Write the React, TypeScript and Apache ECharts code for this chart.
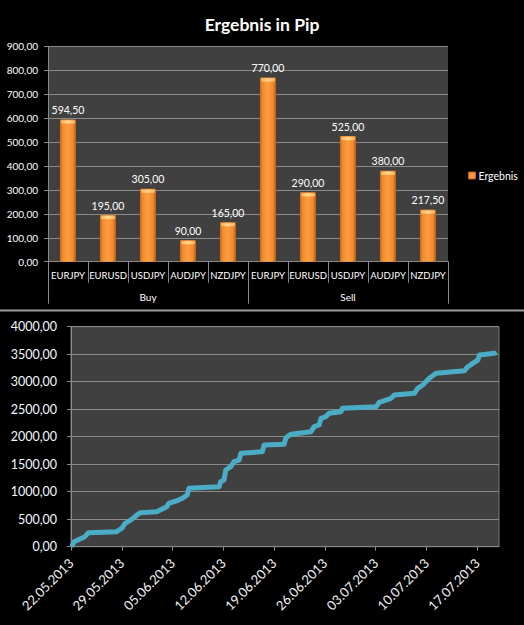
import React, { useEffect, useRef } from "react";
import * as echarts from "echarts";

// ---- Top chart data ----
const pairs = ["EURJPY", "EURUSD", "USDJPY", "AUDJPY", "NZDJPY", "EURJPY", "EURUSD", "USDJPY", "AUDJPY", "NZDJPY"];
const groups = ["Buy", "Sell"];
const results = [594.5, 195, 305, 90, 165, 770, 290, 525, 380, 217.5];
const seriesName = "Ergebnis";

// ---- Bottom chart data (cumulative pips per trade) ----
const tradeTimes = [
  "2013-05-22T05:00", "2013-05-22T10:00", "2013-05-23T22:00", "2013-05-24T10:00", "2013-05-28T07:00",
  "2013-05-29T00:00", "2013-05-29T11:00", "2013-05-30T09:00", "2013-05-31T02:00", "2013-05-31T13:00",
  "2013-06-02T20:00", "2013-06-04T05:00", "2013-06-04T11:00", "2013-06-05T20:00", "2013-06-06T08:00",
  "2013-06-07T00:30", "2013-06-07T06:00", "2013-06-11T10:00", "2013-06-11T15:00", "2013-06-12T02:00",
  "2013-06-12T08:00", "2013-06-13T00:30", "2013-06-13T11:00", "2013-06-14T04:00", "2013-06-14T10:00",
  "2013-06-17T09:00", "2013-06-17T15:00", "2013-06-20T09:00", "2013-06-20T15:00", "2013-06-21T07:00",
  "2013-06-24T02:00", "2013-06-24T12:30", "2013-06-25T05:00", "2013-06-25T11:00", "2013-06-26T03:00",
  "2013-06-26T14:00", "2013-06-28T05:00", "2013-06-28T10:00", "2013-07-03T01:00", "2013-07-03T12:00",
  "2013-07-04T10:00", "2013-07-05T03:00", "2013-07-05T14:00", "2013-07-08T08:00", "2013-07-08T19:00",
  "2013-07-09T11:30", "2013-07-10T09:30", "2013-07-11T08:00", "2013-07-15T06:00", "2013-07-15T17:00",
  "2013-07-16T09:00", "2013-07-17T02:00", "2013-07-17T07:30", "2013-07-19T09:00",
];
const cumulativePips = [
  31, 91, 182, 255, 273,
  335, 425, 498, 576, 618,
  636, 727, 789, 849, 880,
  940, 1062, 1091, 1182, 1213,
  1395, 1455, 1545, 1576, 1698,
  1727, 1849, 1861, 1982, 2044,
  2091, 2182, 2213, 2334, 2364,
  2425, 2455, 2516, 2546, 2625,
  2667, 2698, 2758, 2789, 2880,
  2940, 3062, 3152, 3200, 3273,
  3334, 3394, 3485, 3516,
];
const dateTicks = [
  "22.05.2013", "29.05.2013", "05.06.2013", "12.06.2013", "19.06.2013",
  "26.06.2013", "03.07.2013", "10.07.2013", "17.07.2013",
];
const startDate = "2013-05-22T00:00";
const endDays = 59;

const FONT = "Lato";
const fmt = (v: number) => v.toFixed(2).replace(".", ",");

export default function App() {
  const ref = useRef<HTMLDivElement>(null);

  useEffect(() => {
    document.body.style.margin = "0";
    const chart = echarts.init(ref.current!, undefined, { renderer: "svg" });
    const t0 = Date.parse(startDate + "Z");
    const lineData = tradeTimes.map((t, i) => [
      (Date.parse(t + "Z") - t0) / 86400000,
      cumulativePips[i],
    ]);
    const tickValues = dateTicks.map((_, i) => i * 7);
    const gridColor = "#8a8a8a";

    chart.setOption({
      animation: false,
      backgroundColor: "#000",
      title: {
        text: "Ergebnis in Pip",
        left: "center",
        top: 10,
        textStyle: { color: "#fff", fontSize: 17.5, fontWeight: "bold", fontFamily: FONT },
      },
      legend: {
        data: [{ name: seriesName, icon: "rect", itemStyle: { color: "#f79646", borderColor: "#b85c10", borderWidth: 1 } }],
        left: 463,
        top: 165,
        itemWidth: 7,
        itemHeight: 7,
        itemGap: 4,
        textStyle: { color: "#fff", fontSize: 10.5, fontFamily: FONT, padding: [0, 0, 0, -2] },
      },
      graphic: [
        {
          type: "line",
          shape: { x1: 0, y1: 310.5, x2: 524, y2: 310.5 },
          style: { stroke: "#9a9a9a", lineWidth: 2 },
        },
      ],
      grid: [
        { left: 48, top: 46.3, width: 400, height: 215.4, show: true, backgroundColor: "#404040", borderWidth: 0 },
        { left: 71, top: 326.7, width: 428, height: 220, show: true, backgroundColor: "#404040", borderColor: "#7a7a7a", borderWidth: 1 },
      ],
      xAxis: [
        {
          type: "category",
          gridIndex: 0,
          data: pairs,
          position: "bottom",
          axisLine: { show: true, lineStyle: { color: gridColor } },
          axisTick: { show: true, interval: 0, length: 21, lineStyle: { color: gridColor } },
          axisLabel: { interval: 0, color: "#fff", fontSize: 9.5, fontFamily: FONT, margin: 9 },
        },
        {
          type: "category",
          gridIndex: 0,
          data: groups,
          position: "bottom",
          axisLine: { show: false },
          axisTick: { show: true, interval: 0, length: 42, lineStyle: { color: gridColor } },
          axisLabel: { interval: 0, color: "#fff", fontSize: 10, fontFamily: FONT, margin: 30 },
        },
        {
          type: "value",
          gridIndex: 1,
          min: 0,
          max: endDays,
          interval: 7,
          splitLine: { show: false },
          axisLine: { show: true, lineStyle: { color: gridColor } },
          axisTick: { show: true, length: 4, customValues: tickValues, lineStyle: { color: gridColor } },
          axisLabel: {
            customValues: tickValues,
            rotate: 45,
            margin: 14,
            color: "#f2f2f2",
            fontSize: 13,
            fontFamily: FONT,
            formatter: (v: number) => dateTicks[Math.round(v / 7)] ?? "",
          },
        },
      ],
      yAxis: [
        {
          type: "value",
          gridIndex: 0,
          min: 0,
          max: 900,
          interval: 100,
          axisLine: { show: true, lineStyle: { color: gridColor } },
          axisTick: { show: true, length: 4, lineStyle: { color: gridColor } },
          splitLine: { show: true, lineStyle: { color: gridColor, width: 1 } },
          axisLabel: { color: "#fff", fontSize: 10, fontFamily: FONT, margin: 10, formatter: fmt },
        },
        {
          type: "value",
          gridIndex: 1,
          min: 0,
          max: 4000,
          interval: 500,
          axisLine: { show: true, lineStyle: { color: gridColor } },
          axisTick: { show: true, length: 4, lineStyle: { color: gridColor } },
          splitLine: { show: true, lineStyle: { color: gridColor, width: 1 } },
          axisLabel: { color: "#f2f8ff", fontSize: 12.5, fontFamily: FONT, margin: 14, formatter: fmt },
        },
      ],
      series: [
        {
          name: seriesName,
          type: "bar",
          xAxisIndex: 0,
          yAxisIndex: 0,
          data: results,
          barWidth: 16,
          itemStyle: {
            color: new echarts.graphic.LinearGradient(0, 0, 1, 0, [
              { offset: 0, color: "#c8651a" },
              { offset: 0.15, color: "#ef8a2c" },
              { offset: 0.45, color: "#fb9d3e" },
              { offset: 0.8, color: "#f28d30" },
              { offset: 1, color: "#b95a14" },
            ]),
          },
          label: {
            show: true,
            position: "top",
            distance: 4,
            color: "#fff",
            fontSize: 10.5,
            fontFamily: FONT,
            formatter: (p: any) => fmt(p.value),
          },
        },
        {
          name: "cap",
          type: "pictorialBar",
          xAxisIndex: 0,
          yAxisIndex: 0,
          data: results,
          symbol: "rect",
          symbolSize: [14, 3],
          symbolPosition: "end",
          symbolOffset: [0, 1],
          z: 5,
          silent: true,
          itemStyle: {
            color: new echarts.graphic.LinearGradient(0, 0, 1, 0, [
              { offset: 0, color: "#f5b060" },
              { offset: 0.5, color: "#ffd890" },
              { offset: 1, color: "#f5b060" },
            ]),
          },
        },
        {
          name: "Kumuliert",
          type: "line",
          xAxisIndex: 2,
          yAxisIndex: 1,
          data: lineData,
          showSymbol: false,
          symbol: "none",
          lineStyle: { color: "#4bacc6", width: 5, cap: "round", join: "round" },
        },
      ],
    });
    return () => chart.dispose();
  }, []);

  return (
    <div
      ref={ref}
      style={{ position: "absolute", left: 0, top: 0, width: 524, height: 625, background: "#000" }}
    />
  );
}
